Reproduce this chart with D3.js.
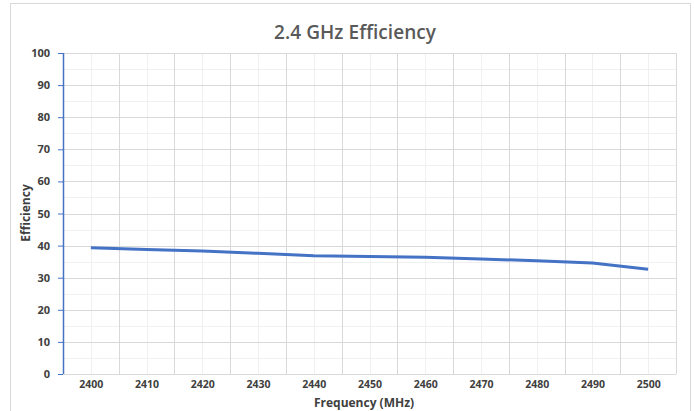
<!DOCTYPE html>
<html><head><meta charset="utf-8">
<script src="https://cdn.jsdelivr.net/npm/d3@7"></script>
<style>body{margin:0;background:#fff;}</style>
</head><body>
<svg id="c" width="694" height="411"></svg>
<script>
const frequencies = [2400, 2410, 2420, 2430, 2440, 2450, 2460, 2470, 2480, 2490, 2500];
const efficiency = [39.3, 38.8, 38.3, 37.6, 36.8, 36.6, 36.4, 35.8, 35.3, 34.6, 32.6];
const yTicks = [0, 10, 20, 30, 40, 50, 60, 70, 80, 90, 100];
const titleText = "2.4 GHz Efficiency";
const xTitle = "Frequency (MHz)";
const yTitle = "Efficiency";

const svg = d3.select("#c");
const W = 694, H = 411;
const m = {left: 63, right: 694 - 676, top: 53, bottom: 411 - 374};
const iw = W - m.left - m.right, ih = H - m.top - m.bottom;
const font = "'Open Sans', sans-serif";

svg.append("rect").attr("x", 10.5).attr("y", 3.5).attr("width", 680).attr("height", 410)
  .attr("fill", "#fff").attr("stroke", "#d9d9d9");

const x = d3.scalePoint().domain(frequencies).range([0, iw]).padding(0.5);
const y = d3.scaleLinear().domain([0, 100]).range([ih, 0]);
const step = x.step();

const g = svg.append("g").attr("transform", `translate(${m.left},${m.top})`);

// minor horizontal grid
const minorY = d3.range(5, 100, 10);
g.selectAll(".hm").data(minorY).join("line")
  .attr("x1", 0).attr("x2", iw).attr("y1", d => Math.round(y(d)) + 0.5).attr("y2", d => Math.round(y(d)) + 0.5)
  .attr("stroke", "#f0f0f0").attr("stroke-width", 1);
// minor vertical grid at category centers
g.selectAll(".vm").data(frequencies).join("line")
  .attr("y1", 0).attr("y2", ih).attr("x1", d => Math.round(x(d)) + 0.5).attr("x2", d => Math.round(x(d)) + 0.5)
  .attr("stroke", "#f0f0f0").attr("stroke-width", 1);
// major horizontal grid
g.selectAll(".hM").data(yTicks).join("line")
  .attr("x1", 0).attr("x2", iw).attr("y1", d => Math.round(y(d)) + 0.5).attr("y2", d => Math.round(y(d)) + 0.5)
  .attr("stroke", "#d9d9d9").attr("stroke-width", 1);
// major vertical grid between categories
const bounds = d3.range(1, frequencies.length + 1).map(i => i * step);
g.selectAll(".vM").data(bounds).join("line")
  .attr("y1", 0).attr("y2", ih).attr("x1", d => Math.round(d) + 0.5).attr("x2", d => Math.round(d) + 0.5)
  .attr("stroke", "#d9d9d9").attr("stroke-width", 1);

// y axis
const ya = g.append("g").call(d3.axisLeft(y).tickValues(yTicks).tickSize(5).tickPadding(8));
ya.select(".domain").attr("stroke", "#4472c4").attr("stroke-width", 1.5).attr("d", `M0.5,${ih}V0`);
ya.selectAll(".tick line").attr("stroke", "#4472c4");
ya.selectAll("text").attr("font-family", font).attr("font-size", 11).attr("font-weight", "bold").attr("fill", "#404040");

// x axis labels
const xa = g.append("g").attr("transform", `translate(0,${ih})`)
  .call(d3.axisBottom(x).tickSize(0).tickPadding(7));
xa.select(".domain").remove();
xa.selectAll("text").attr("font-family", font).attr("font-size", 10.5).attr("font-weight", "bold").attr("fill", "#404040");

// line
g.append("path").datum(frequencies.map((f, i) => [f, efficiency[i]]))
  .attr("fill", "none").attr("stroke", "#4472c4").attr("stroke-width", 3).attr("stroke-linejoin", "round")
  .attr("d", d3.line().x(d => x(d[0])).y(d => y(d[1])));

// titles
svg.append("text").attr("x", 355).attr("y", 39).attr("text-anchor", "middle")
  .attr("font-family", font).attr("font-size", 19).attr("font-weight", 600).attr("fill", "#595959")
  .attr("textLength", 162).text(titleText);
svg.append("text").attr("x", 364).attr("y", 407).attr("text-anchor", "middle")
  .attr("font-family", font).attr("font-size", 12).attr("font-weight", "bold").attr("fill", "#404040")
  .text(xTitle);
svg.append("text").attr("transform", "translate(30,213) rotate(-90)").attr("text-anchor", "middle")
  .attr("font-family", font).attr("font-size", 12).attr("font-weight", "bold").attr("fill", "#404040")
  .text(yTitle);
</script>
</body></html>
